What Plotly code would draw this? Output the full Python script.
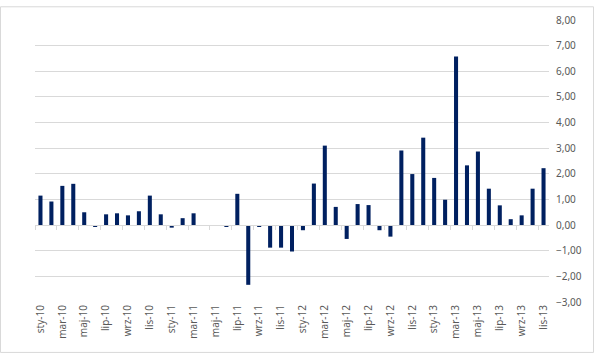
import plotly.graph_objects as go

months = ["sty", "lut", "mar", "kwi", "maj", "cze", "lip", "sie", "wrz", "paź", "lis", "gru"]
years = ["10", "11", "12", "13"]
categories = [f"{m}-{y}" for y in years for m in months][:47]

values = [1.15, 0.92, 1.53, 1.61, 0.50, -0.06, 0.42, 0.46, 0.38, 0.54, 1.15, 0.42,
          -0.10, 0.27, 0.46, 0.00, 0.00, -0.04, 1.22, -2.33, -0.04, -0.88, -0.88, -1.03,
          -0.20, 1.62, 3.10, 0.71, -0.54, 0.82, 0.78, -0.20, -0.45, 2.91, 1.99, 3.41,
          1.84, 0.99, 6.58, 2.33, 2.87, 1.42, 0.77, 0.23, 0.38, 1.42, 2.22]

y_ticks = list(range(-3, 9))

W, H = 594, 354
L, R, T, B = 35, 45, 14, 52
pw, ph = W - L - R, H - T - B

x = list(range(len(values)))
label_idx = x[::2]
boundaries = [i - 0.5 for i in x[::2]]

grid = "#d9d9d9"
font = dict(family="Noto Sans, Open Sans, sans-serif", size=10, color="#595959")

fig = go.Figure()
fig.add_trace(go.Bar(x=x, y=values, marker=dict(color="#002060", line=dict(width=0)),
                     hoverinfo="skip"))
fig.add_trace(go.Scatter(x=[x[0]], y=[0], xaxis="x2", mode="markers",
                         marker=dict(opacity=0), showlegend=False, hoverinfo="skip"))

fig.update_layout(
    width=W, height=H,
    margin=dict(l=L, r=R, t=T, b=B),
    paper_bgcolor="white", plot_bgcolor="white",
    separators=", ",
    showlegend=False,
    bargap=0.63,
    font=font,
    xaxis=dict(range=[-0.5, len(values) - 0.5], tickmode="array",
               tickvals=label_idx, ticktext=[categories[i] for i in label_idx],
               tickangle=-90, showgrid=False, zeroline=False, showline=False,
               ticks="", tickfont=font, fixedrange=True),
    xaxis2=dict(range=[-0.5, len(values) - 0.5], overlaying="x", anchor="free",
                position=(0 - y_ticks[0]) / (y_ticks[-1] - y_ticks[0]),
                showline=True, linecolor=grid, linewidth=1,
                tickmode="array", tickvals=boundaries, ticks="outside",
                ticklen=4, tickcolor=grid, tickwidth=1,
                showticklabels=False, showgrid=False, zeroline=False),
    yaxis=dict(range=[y_ticks[0], y_ticks[-1]], tickmode="array", tickvals=y_ticks,
               tickformat=".2f", side="right", showgrid=True, gridcolor=grid,
               gridwidth=1, zeroline=False, showline=False, ticks="",
               tickfont=font, ticklabelstandoff=6),
    shapes=[dict(type="rect", xref="paper", yref="paper",
                 x0=(0.5 - L) / pw, x1=(W - 0.5 - L) / pw,
                 y0=-(B - 0.5) / ph, y1=1 + (T - 0.5) / ph,
                 line=dict(color=grid, width=1), fillcolor="rgba(0,0,0,0)", layer="below")],
)

fig.write_html("out.html")
